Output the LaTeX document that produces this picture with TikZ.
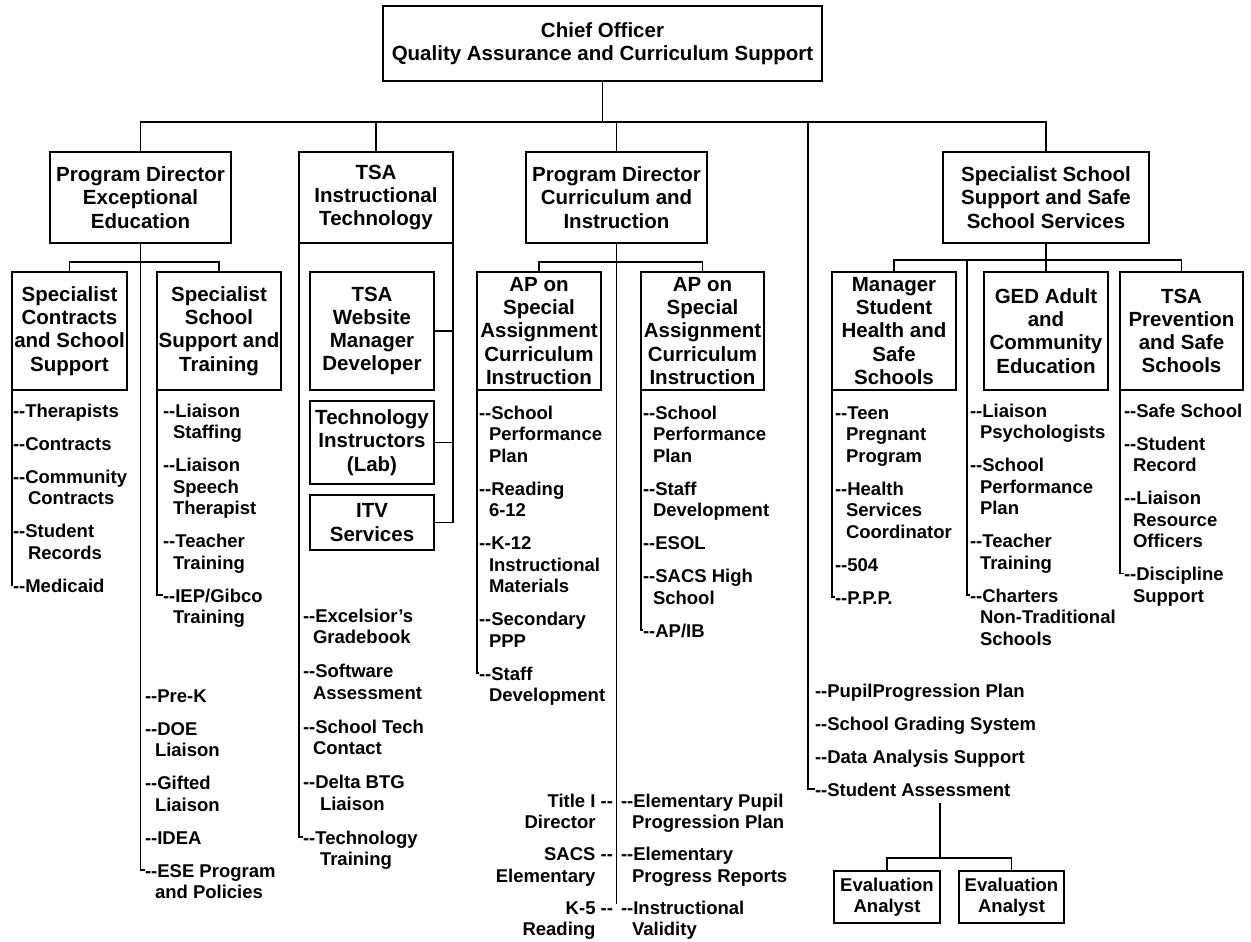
\documentclass[tikz,border=0pt]{standalone}
\usepackage{fontspec}
\setmainfont{Liberation Sans}
% fonts for boxes, list items and the small analyst boxes
\newcommand\bfont{\fontsize{20.5}{23.25}\selectfont\bfseries}
\newcommand\lfont{\fontsize{18.5}{21.5}\selectfont\bfseries}
\newcommand\efont{\fontsize{18.5}{20.7}\selectfont\bfseries}
% two separate hyphens (not an en dash)
\newcommand\dsh{\mbox{-}\mbox{-}}
\newcommand\ind[1][10pt]{\hspace*{#1}}
\newcommand\li[1]{\strut#1\strut}
% next list item below a previous one
\newcommand\nx[4]{\node[itm] (#1) at ([yshift=-#3pt]#2.south west) {\li{#4}};}
\newcommand\nxr[4]{\node[itmr] (#1) at ([yshift=-#3pt]#2.south east) {\li{#4}};}
\begin{document}
\begin{tikzpicture}[x=1pt,y=-1pt,line width=1.7pt,
  box/.style 2 args={draw, inner sep=0pt, outer sep=0pt, align=center, font=\bfont,
    minimum width=#1, minimum height=#2},
  ebox/.style 2 args={box={#1}{#2}, font=\efont},
  itm/.style={anchor=north west, inner sep=0pt, outer sep=0pt, align=left, font=\lfont},
  itmr/.style={anchor=north east, inner sep=0pt, outer sep=0pt, align=right, font=\lfont},
  wire/.style={draw, line width=1.7pt}]
\fill[white] (0,0) rectangle (1251,942);
\useasboundingbox (0,0) rectangle (1251,942);

% ---------- top levels ----------
\node[box={439}{75}] (chief) at (602.5,43.5) {Chief Officer\\Quality Assurance and Curriculum Support};
\node[box={181}{91}] (pde) at (140.5,197.5) {Program Director\\Exceptional\\Education};
\node[box={154}{91}] (tsa) at (376,197.5) {TSA\\Instructional\\Technology};
\node[box={181}{91}] (pdc) at (616.5,197.5) {Program Director\\Curriculum and\\Instruction};
\node[box={206}{91}] (sss) at (1046,197.5) {Specialist School\\Support and Safe\\School Services};

\node[box={115}{118}] (csup) at (69.5,331) {Specialist\\Contracts\\and School\\Support};
\node[box={124}{118}] (sst) at (219,331) {Specialist\\School\\Support and\\Training};
\node[box={124}{118}] (web) at (372,331) {TSA\\Website\\Manager\\Developer};
\node[box={124}{83}] (lab) at (372,442.5) {Technology\\Instructors\\(Lab)};
\node[box={124}{55}] (itv) at (372,522.5) {ITV\\Services};
\node[box={124}{118}] (ap1) at (539,331) {AP on\\Special\\Assignment\\Curriculum\\Instruction};
\node[box={123}{118}] (ap2) at (702.5,331) {AP on\\Special\\Assignment\\Curriculum\\Instruction};
\node[box={124}{118}] (mgr) at (894,331) {Manager\\Student\\Health and\\Safe\\Schools};
\node[box={124}{118}] (ged) at (1046,331) {GED Adult\\and\\Community\\Education};
\node[box={123}{118}] (tsp) at (1181.5,331) {TSA\\Prevention\\and Safe\\Schools};

\node[ebox={106}{52}] (ev1) at (887,897) {Evaluation\\Analyst};
\node[ebox={105}{52}] (ev2) at (1011.5,897) {Evaluation\\Analyst};

% bus lines
\coordinate (b1) at (602.5,122);
\coordinate (b2) at (140.5,262);
\coordinate (b3) at (616.5,262);
\coordinate (b4) at (1046,260);
\coordinate (b5) at (940,858);
\coordinate (dv) at (808,122);
\coordinate (gedl) at (967,260);

\draw[wire] (chief.south) -- (b1);
\draw[wire] (pde.north) -- (pde.north |- b1) -- (sss.north |- b1) -- (sss.north);
\draw[wire] (tsa.north) -- (tsa.north |- b1);
\draw[wire] (pdc.north) -- (pdc.north |- b1);

\draw[wire] (csup.north) -- (csup.north |- b2) -- (sst.north |- b2) -- (sst.north);
\draw[wire] (ap1.north) -- (ap1.north |- b3) -- (ap2.north |- b3) -- (ap2.north);
\draw[wire] (sss.south) -- (ged.north);
\draw[wire] (mgr.north) -- (mgr.north |- b4) -- (tsp.north |- b4) -- (tsp.north);

% TSA sub boxes hang from the right side
\draw[wire] (tsa.south east) |- (itv.east);
\draw[wire] (web.east) -- (web.east -| tsa.east);
\draw[wire] (lab.east) -- (lab.east -| tsa.east);

% ---------- lists ----------
% Contracts and School Support
\node[itm] (ct1) at (13,402) {\li{\dsh Therapists}};
\nx{ct2}{ct1}{11.5}{\dsh Contracts}
\nx{ct3}{ct2}{11.5}{\dsh Community\\\ind[15pt]Contracts}
\nx{ct4}{ct3}{11.5}{\dsh Student\\\ind[15pt]Records}
\nx{ct5}{ct4}{11.5}{\dsh Medicaid}
\draw[wire] (csup.south west) |- ([yshift=-8pt]ct5.north west);

% School Support and Training
\node[itm] (st1) at (163,402) {\li{\dsh Liaison\\\ind Staffing}};
\nx{st2}{st1}{11.5}{\dsh Liaison\\\ind Speech\\\ind Therapist}
\nx{st3}{st2}{11.5}{\dsh Teacher\\\ind Training}
\nx{st4}{st3}{11.5}{\dsh IEP/Gibco\\\ind Training}
\draw[wire] (sst.south west) |- ([yshift=-8pt]st4.north west);

% Exceptional Education
\node[itm] (pe1) at (145,687) {\li{\dsh Pre-K}};
\nx{pe2}{pe1}{11.5}{\dsh DOE\\\ind Liaison}
\nx{pe3}{pe2}{11.5}{\dsh Gifted\\\ind Liaison}
\nx{pe4}{pe3}{11.5}{\dsh IDEA}
\nx{pe5}{pe4}{11.5}{\dsh ESE Program\\\ind and Policies}
\draw[wire] (pde.south) |- ([yshift=-8pt]pe5.north west);

% Instructional Technology
\node[itm] (ts1) at (303,607) {\li{\dsh Excelsior’s\\\ind Gradebook}};
\nx{ts2}{ts1}{12.5}{\dsh Software\\\ind Assessment}
\nx{ts3}{ts2}{12.5}{\dsh School Tech\\\ind Contact}
\nx{ts4}{ts3}{12.5}{\dsh Delta BTG\\\ind[17pt]Liaison}
\nx{ts5}{ts4}{12.5}{\dsh Technology\\\ind[17pt]Training}
\draw[wire] (tsa.south west) |- ([yshift=-8pt]ts5.north west);

% AP on Special Assignment (1)
\node[itm] (a1) at (479,404) {\li{\dsh School\\\ind Performance\\\ind Plan}};
\nx{a2}{a1}{11.5}{\dsh Reading\\\ind 6-12}
\nx{a3}{a2}{11.5}{\dsh K-12\\\ind Instructional\\\ind Materials}
\nx{a4}{a3}{11.5}{\dsh Secondary\\\ind PPP}
\nx{a5}{a4}{11.5}{\dsh Staff\\\ind Development}
\draw[wire] (ap1.south west) |- ([yshift=-8pt]a5.north west);

% AP on Special Assignment (2)
\node[itm] (c1) at (643,404) {\li{\dsh School\\\ind Performance\\\ind Plan}};
\nx{c2}{c1}{11.5}{\dsh Staff\\\ind Development}
\nx{c3}{c2}{11.5}{\dsh ESOL}
\nx{c4}{c3}{11.5}{\dsh SACS High\\\ind School}
\nx{c5}{c4}{11.5}{\dsh AP/IB}
\draw[wire] (ap2.south west) |- ([yshift=-8pt]c5.north west);

% Curriculum and Instruction, both sides of the line
\node[itmr] (t1) at (613,792) {\li{Title I \dsh\\Director\phantom{ \dsh}}};
\nxr{t2}{t1}{10.5}{SACS \dsh\\Elementary\phantom{ \dsh}}
\nxr{t3}{t2}{10.5}{K-5 \dsh\\Reading\phantom{ \dsh}}
\node[itm] (e1) at (621,792) {\li{\dsh Elementary Pupil\\\ind[11pt]Progression Plan}};
\nx{e2}{e1}{10.5}{\dsh Elementary\\\ind[11pt]Progress Reports}
\nx{e3}{e2}{10.5}{\dsh Instructional\\\ind[11pt]Validity}
\coordinate (pdcEnd) at ([yshift=-5pt]e3.north west);
\draw[wire] (pdc.south) -- (pdc.south |- pdcEnd);

% Manager Student Health and Safe Schools
\node[itm] (m1) at (835,404) {\li{\dsh Teen\\\ind[11pt]Pregnant\\\ind[11pt]Program}};
\nx{m2}{m1}{11.5}{\dsh Health\\\ind[11pt]Services\\\ind[11pt]Coordinator}
\nx{m3}{m2}{11.5}{\dsh 504}
\nx{m4}{m3}{11.5}{\dsh P.P.P.}
\draw[wire] (mgr.south west) |- ([yshift=-8pt]m4.north west);

% GED Adult and Community Education
\node[itm] (g1) at (970,402) {\li{\dsh Liaison\\\ind Psychologists}};
\nx{g2}{g1}{11.5}{\dsh School\\\ind Performance\\\ind Plan}
\nx{g3}{g2}{11.5}{\dsh Teacher\\\ind Training}
\nx{g4}{g3}{11.5}{\dsh Charters\\\ind Non-Traditional\\\ind Schools}
\draw[wire] (gedl) |- ([yshift=-8pt]g4.north west);

% TSA Prevention and Safe Schools
\node[itm] (p1) at (1124,402) {\li{\dsh Safe School}};
\nx{p2}{p1}{11.5}{\dsh Student\\\ind[9pt]Record}
\nx{p3}{p2}{11.5}{\dsh Liaison\\\ind[9pt]Resource\\\ind[9pt]Officers}
\nx{p4}{p3}{11.5}{\dsh Discipline\\\ind[9pt]Support}
\draw[wire] (tsp.south west) |- ([yshift=-8pt]p4.north west);

% direct reports of the chief officer
\node[itm] (r1) at (815,682) {\li{\dsh PupilProgression Plan}};
\nx{r2}{r1}{11.5}{\dsh School Grading System}
\nx{r3}{r2}{11.5}{\dsh Data Analysis Support}
\nx{r4}{r3}{11.5}{\dsh Student Assessment}
\draw[wire] (dv) |- ([yshift=-8pt]r4.north west);

% evaluation analysts
\draw[wire] (r4.south -| b5) -- (b5);
\draw[wire] (ev1.north) -- (ev1.north |- b5) -- (ev2.north |- b5) -- (ev2.north);
\end{tikzpicture}
\end{document}
